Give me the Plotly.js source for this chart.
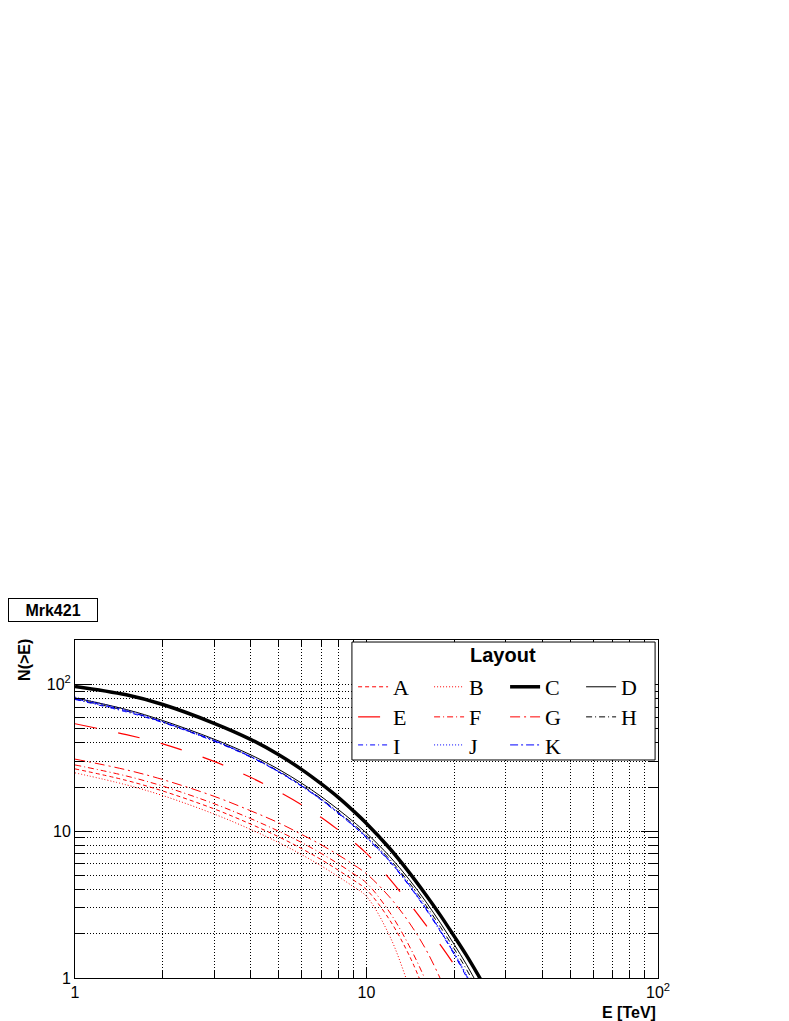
<!DOCTYPE html>
<html>
<head>
<meta charset="utf-8">
<script src="https://cdn.plot.ly/plotly-3.0.1.min.js"></script>
<style>
  html, body { margin: 0; padding: 0; background: #fff; }
  #plot { width: 789px; height: 1021px; }
</style>
</head>
<body>
<div id="plot"></div>
<script>
var energy = [1, 1.5, 2, 3, 4, 5, 6, 7, 8, 9, 10, 12, 14, 16, 18, 20, 22, 24, 26];

// N(>E) for each layout
var seriesA = [26.6, 22.2, 18.8, 14.2, 11.2, 9.16, 7.6, 6.4, 5.43, 4.66, 4.0, 2.49, 1.43, 0.77, null, null, null, null, null];
var seriesB = [25.0, 20.7, 17.5, 13.1, 10.3, 8.37, 6.92, 5.8, 4.91, 4.2, 3.6, 1.94, 0.87, 0.4, null, null, null, null, null];
var seriesC = [97, 85, 73, 54.4, 42.3, 33.2, 26.3, 21.0, 17.0, 13.8, 11.3, 7.66, 5.25, 3.68, 2.64, 1.92, 1.43, 1.07, 0.81];
var seriesD = [81, 67.5, 56.8, 42.4, 33.2, 26.4, 21.2, 17.2, 14.06, 11.65, 9.7, 6.75, 4.7, 3.3, 2.34, 1.69, 1.24, 0.91, 0.68];
var seriesE = [54, 45.5, 39.4, 29.9, 23.3, 18.6, 15.1, 12.4, 10.2, 8.5, 7.06, 4.73, 3.24, 2.29, 1.66, 1.23, 0.925, 0.70, null];
var seriesF = [28.3, 23.8, 20.3, 15.4, 12.2, 10.0, 8.36, 7.05, 6.0, 5.15, 4.44, 2.81, 1.66, 0.95, 0.53, null, null, null, null];
var seriesG = [31.0, 26.2, 22.5, 17.3, 13.8, 11.4, 9.5, 8.07, 6.9, 5.94, 5.13, 3.56, 2.39, 1.56, 0.97, 0.6, null, null, null];
var seriesH = [79.5, 66, 55.5, 41.3, 32.3, 25.6, 20.5, 16.6, 13.5, 11.2, 9.3, 6.45, 4.47, 3.12, 2.2, 1.58, 1.15, 0.84, 0.62];
var seriesI = [79, 65, 55, 41, 32, 25.3, 20.2, 16.3, 13.2, 10.9, 9.0, 6.2, 4.25, 2.93, 2.04, 1.44, 1.02, 0.73, null];
var seriesJ = [82, 67, 56, 41.8, 32.4, 25.6, 20.4, 16.5, 13.4, 11.05, 9.15, 6.33, 4.35, 3.0, 2.1, 1.49, 1.06, 0.76, null];
var seriesK = [80, 66, 55.5, 41.4, 32.2, 25.4, 20.3, 16.4, 13.3, 10.97, 9.08, 6.27, 4.3, 2.96, 2.07, 1.46, 1.04, 0.745, null];

// axis ticks
var xMajor = [1, 10, 100];
var xMajorText = ['1', '10', '10<sup>2</sup>'];
var xMinor = [2, 3, 4, 5, 6, 7, 8, 9, 20, 30, 40, 50, 60, 70, 80, 90];
var yMajor = [1, 10, 100];
var yMajorText = ['1', '10', '10<sup>2</sup>'];
var yMinor = [2, 3, 4, 5, 6, 7, 8, 9, 20, 30, 40, 50, 60, 70, 80, 90, 200];

function curve(name, y, color, width, dash, legend) {
  return {
    x: energy,
    y: y,
    name: name,
    type: 'scatter',
    mode: 'lines',
    line: {color: color, width: width, dash: dash, shape: 'spline', smoothing: 1},
    legend: legend,
    connectgaps: false,
    hoverinfo: 'skip'
  };
}

var data = [
  curve('A', seriesA, 'red', 1, '4px,3px', 'legend'),
  curve('B', seriesB, 'red', 1, '1px,2px', 'legend'),
  curve('C', seriesC, 'black', 3.5, 'solid', 'legend'),
  curve('D', seriesD, 'black', 1, 'solid', 'legend'),
  curve('E', seriesE, 'red', 1.2, '22px,22px', 'legend2'),
  curve('F', seriesF, 'red', 1, '6px,3px,1px,3px', 'legend2'),
  curve('G', seriesG, 'red', 1, '10px,4px,2px,4px', 'legend2'),
  curve('H', seriesH, 'black', 1, '6px,3px,1px,3px', 'legend2'),
  curve('I', seriesI, 'blue', 1, '5px,3px,1px,3px', 'legend3'),
  curve('J', seriesJ, 'blue', 1, '1px,2px', 'legend3'),
  curve('K', seriesK, 'blue', 1, '8px,3px,2px,3px', 'legend3')
];

var gridDash = '1px,2px';

var legendBase = {
  orientation: 'h',
  x: 0.477,
  xanchor: 'left',
  yanchor: 'middle',
  entrywidth: 31,
  bgcolor: 'rgba(0,0,0,0)',
  borderwidth: 0,
  font: {family: 'Liberation Serif, Times New Roman, serif', size: 22, color: 'black'},
  itemclick: false,
  itemdoubleclick: false
};

var layout = {
  width: 789,
  height: 1021,
  margin: {l: 75, r: 131, t: 640, b: 43},
  paper_bgcolor: 'white',
  plot_bgcolor: 'white',
  font: {family: 'Liberation Sans, Arial, sans-serif', color: 'black', size: 16},
  showlegend: true,
  xaxis: {
    type: 'log',
    range: [0, 2],
    tickmode: 'array',
    tickvals: xMajor,
    ticktext: xMajorText,
    ticks: 'inside',
    ticklen: 11,
    tickcolor: 'black',
    showline: true,
    linecolor: 'black',
    linewidth: 1,
    mirror: 'ticks',
    showgrid: true,
    gridcolor: 'black',
    griddash: gridDash,
    gridwidth: 1,
    zeroline: false,
    tickfont: {size: 16},
    minor: {tickmode: 'array', tickvals: xMinor, ticks: 'inside', ticklen: 7, tickcolor: 'black',
            showgrid: true, gridcolor: 'black', griddash: gridDash, gridwidth: 1}
  },
  yaxis: {
    type: 'log',
    range: [0, 2.303],
    tickmode: 'array',
    tickvals: yMajor,
    ticktext: yMajorText,
    ticks: 'inside',
    ticklen: 17,
    tickcolor: 'black',
    showline: true,
    linecolor: 'black',
    linewidth: 1,
    mirror: 'ticks',
    showgrid: true,
    gridcolor: 'black',
    griddash: gridDash,
    gridwidth: 1,
    zeroline: false,
    tickfont: {size: 16},
    minor: {tickmode: 'array', tickvals: yMinor, ticks: 'inside', ticklen: 9, tickcolor: 'black',
            showgrid: true, gridcolor: 'black', griddash: gridDash, gridwidth: 1}
  },
  legend: Object.assign({}, legendBase, {y: 0.861}),
  legend2: Object.assign({}, legendBase, {y: 0.772}),
  legend3: Object.assign({}, legendBase, {y: 0.689}),
  shapes: [{
    type: 'rect', xref: 'paper', yref: 'paper',
    x0: 0.475, x1: 0.995, y0: 0.645, y1: 0.994,
    fillcolor: 'white', line: {color: 'black', width: 1}, layer: 'above'
  }],
  annotations: [
    {xref: 'paper', yref: 'paper', x: 0.734, y: 0.9556, xanchor: 'center', yanchor: 'middle',
     text: '<b>Layout</b>', showarrow: false, font: {size: 20}},
    {xref: 'paper', yref: 'paper', x: -0.1149, y: 1.1243, xanchor: 'left', yanchor: 'top',
     text: '<b>Mrk421</b>', showarrow: false, bordercolor: 'black', borderwidth: 1,
     borderpad: 2, width: 84, height: 18, font: {size: 16}},
    {xref: 'paper', yref: 'paper', x: -0.0858, y: 0.941, xanchor: 'center', yanchor: 'middle',
     text: '<b>N(&gt;E)</b>', textangle: -90, showarrow: false, font: {size: 16}},
    {xref: 'paper', yref: 'paper', x: 1, y: -0.1006, xanchor: 'right', yanchor: 'middle',
     text: '<b>E [TeV]</b>', showarrow: false, font: {size: 16}}
  ]
};

Plotly.newPlot('plot', data, layout, {displayModeBar: false, staticPlot: true});
</script>
</body>
</html>
